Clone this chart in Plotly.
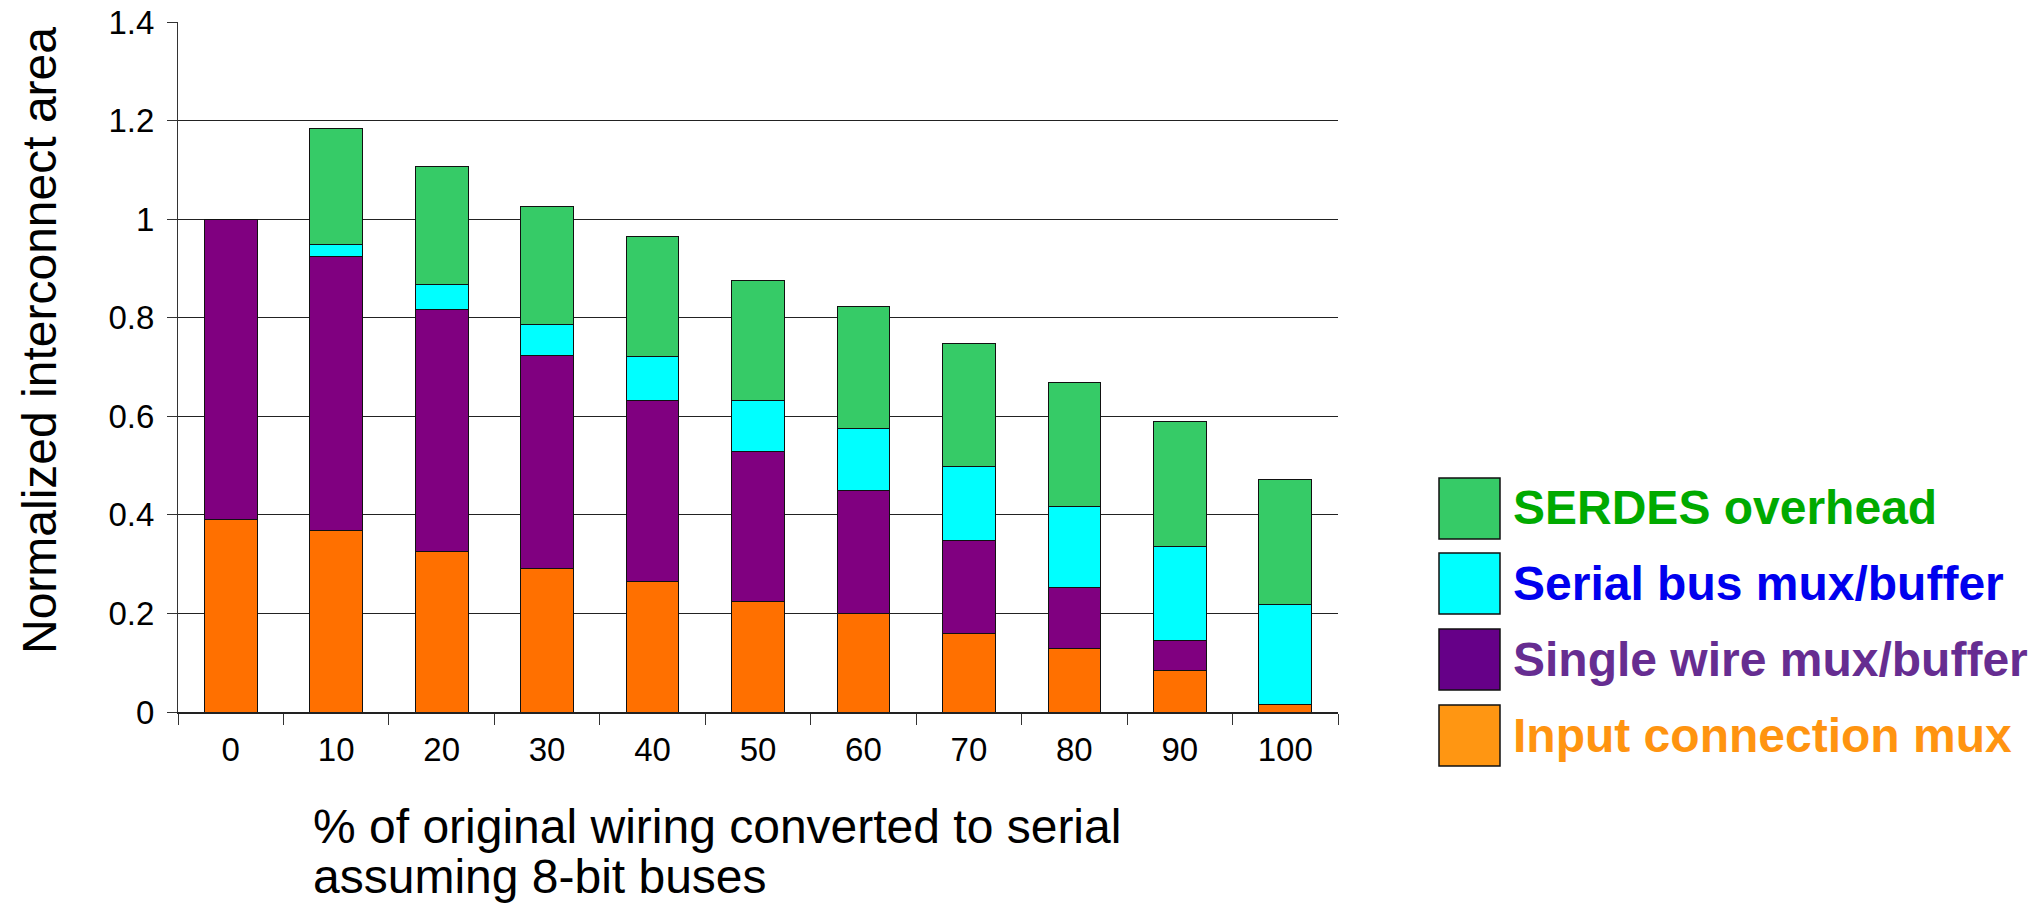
import plotly.graph_objects as go

# Share of original wiring converted to serial (%)
categories = ["0", "10", "20", "30", "40", "50", "60", "70", "80", "90", "100"]

# Stacked components of normalized interconnect area (bottom to top)
input_connection_mux = [0.390, 0.369, 0.325, 0.292, 0.264, 0.224, 0.200, 0.160, 0.128, 0.084, 0.016]
single_wire_mux_buffer = [0.610, 0.555, 0.492, 0.431, 0.369, 0.305, 0.249, 0.187, 0.125, 0.062, 0.000]
serial_bus_mux_buffer = [0.000, 0.025, 0.051, 0.063, 0.088, 0.103, 0.127, 0.152, 0.164, 0.190, 0.202]
serdes_overhead = [0.000, 0.235, 0.239, 0.240, 0.243, 0.244, 0.247, 0.249, 0.251, 0.253, 0.254]

legend_labels = ["SERDES overhead", "Serial bus mux/buffer", "Single wire mux/buffer", "Input connection mux"]

W, H = 2039, 904
PL, PR, PT, PB = 178, 1338, 22, 712   # plot area in pixels
FONT = "Liberation Sans, Arial, sans-serif"

series = [
    (input_connection_mux, "#FF7000"),
    (single_wire_mux_buffer, "#800080"),
    (serial_bus_mux_buffer, "#00FFFF"),
    (serdes_overhead, "#36CB67"),
]

fig = go.Figure()
for (vals, color), name in zip(series, legend_labels[::-1]):
    fig.add_trace(go.Bar(
        x=categories, y=vals, name=name,
        marker=dict(color=color, line=dict(color="#111111", width=1)),
        showlegend=False,
    ))


def px_x(x):
    return (x - PL) / (PR - PL)


def px_y(y):
    return (PB - y) / (PB - PT)


annotations = [
    dict(text="Normalized interconnect area", textangle=-90,
         x=px_x(39), y=px_y(341), xref="paper", yref="paper",
         xanchor="center", yanchor="middle", showarrow=False,
         font=dict(family=FONT, size=48, color="black")),
    dict(text="% of original wiring converted to serial",
         x=px_x(311), y=px_y(826), xref="paper", yref="paper",
         xanchor="left", yanchor="middle", showarrow=False,
         font=dict(family=FONT, size=48, color="black")),
    dict(text="assuming 8-bit buses",
         x=px_x(311), y=px_y(876), xref="paper", yref="paper",
         xanchor="left", yanchor="middle", showarrow=False,
         font=dict(family=FONT, size=48, color="black")),
]

shapes = []
swatch_fill = ["#36CB67", "#00FFFF", "#660088", "#FF9612"]
text_color = ["#00AA00", "#0000EE", "#662D91", "#FF9410"]
swatch_top = [478, 553, 629, 705]
for lab, fc, tc, top in zip(legend_labels, swatch_fill, text_color, swatch_top):
    shapes.append(dict(type="rect", xref="paper", yref="paper",
                       x0=px_x(1439), x1=px_x(1500), y0=px_y(top + 61), y1=px_y(top),
                       fillcolor=fc, line=dict(color="#111111", width=1.5)))
    annotations.append(dict(text="<b>%s</b>" % lab, x=px_x(1511), y=px_y(top + 30),
                            xref="paper", yref="paper", xanchor="left", yanchor="middle",
                            showarrow=False, font=dict(family=FONT, size=48, color=tc)))

fig.update_layout(
    width=W, height=H,
    margin=dict(l=PL, r=W - PR, t=PT, b=H - PB, pad=0, autoexpand=False),
    barmode="stack", bargap=0.5,
    plot_bgcolor="white", paper_bgcolor="white",
    font=dict(family=FONT, size=33, color="black"),
    annotations=annotations, shapes=shapes,
    xaxis=dict(type="category", showgrid=False, showline=True, linecolor="#222222", linewidth=1.5,
               ticks="outside", tickson="boundaries", ticklen=11, tickcolor="#333333", tickwidth=1,
               tickfont=dict(family=FONT, size=33, color="black"), ticklabelstandoff=8,
               automargin=False),
    yaxis=dict(range=[0, 1.4], dtick=0.2, showgrid=True, gridcolor="#222222", gridwidth=1.3,
               showline=True, linecolor="#333333", linewidth=1, zeroline=False,
               ticks="outside", ticklen=10, tickcolor="#333333", tickwidth=1,
               tickfont=dict(family=FONT, size=33, color="black"), ticklabelstandoff=6,
               automargin=False),
)

fig.write_html("out.html")
